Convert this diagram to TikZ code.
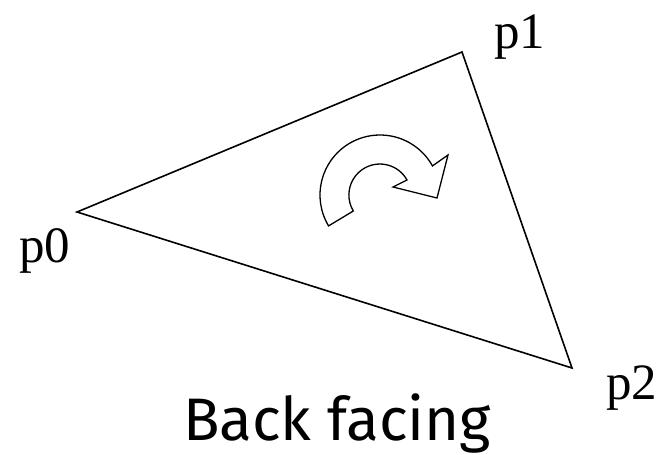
\documentclass[tikz,border=0pt]{standalone}
\usepackage{fontspec}
\setmainfont{Liberation Serif}
\newfontfamily\capfont{Fira Sans}
\begin{document}
\begin{tikzpicture}[x=1pt,y=-1pt,
  lbl/.style={inner sep=0pt,anchor=base west,font=\fontsize{51}{51}\selectfont},
  edge/.style={line width=1.6pt,line join=miter},
  turn/.style={line width=1.3pt,line join=miter,fill=white}]
\useasboundingbox (0,0) rectangle (664,455);
\coordinate (v0) at (77,212);
\coordinate (v1) at (462,52);
\coordinate (v2) at (572,368);
\draw[edge] (v0) -- (v1) -- (v2) -- cycle;
\node[lbl] (p0) at (19,262) {p0};
\node[lbl] (p1) at (494,48) {p1};
\node[lbl] (p2) at (606,399) {p2};
\coordinate (c) at (380,195);
\draw[turn] (c) ++(149:60) arc[start angle=149,end angle=331,radius=60]
  -- (448,155) -- (437,198) -- (393,187) -- (407,180)
  arc[start angle=331,end angle=149,radius=31] -- cycle;
\node[inner sep=0pt,anchor=base,font=\capfont\fontsize{60}{60}\selectfont] (cap) at (337,440) {Back facing};
\end{tikzpicture}
\end{document}
